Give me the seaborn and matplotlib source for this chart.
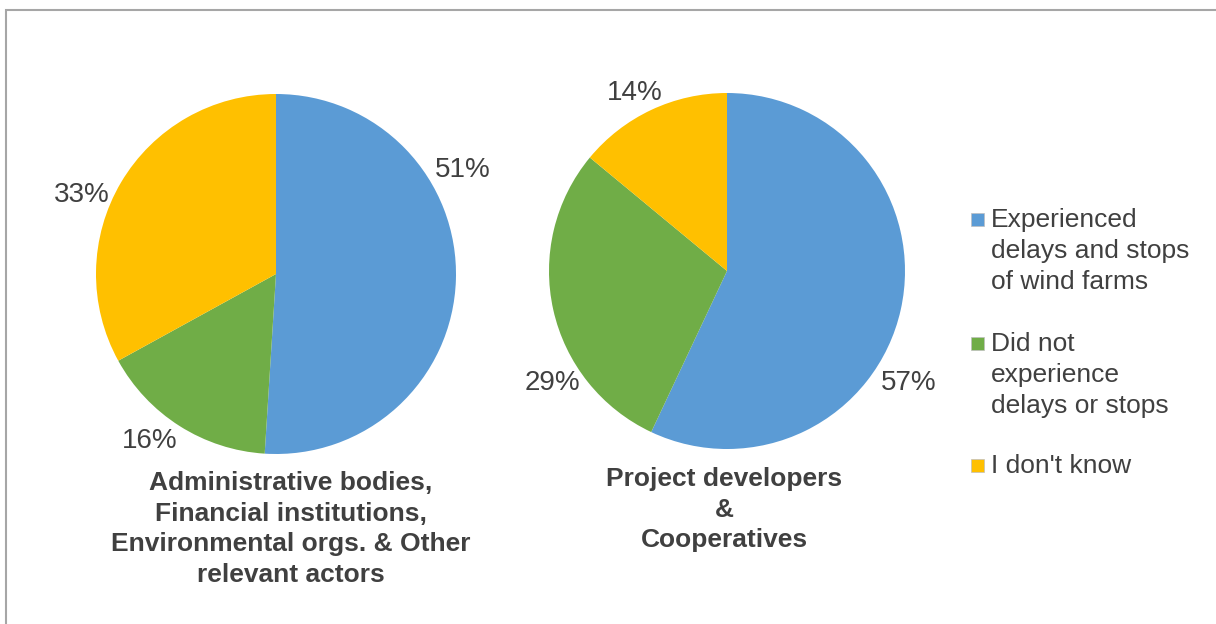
import matplotlib
matplotlib.use("Agg")
import matplotlib.pyplot as plt
from matplotlib.patches import Rectangle
import seaborn as sns

# データ
categories = ["Experienced\ndelays and stops\nof wind farms",
              "Did not\nexperience\ndelays or stops",
              "I don't know"]
admin_values = [51, 16, 33]
developer_values = [57, 29, 14]
group_titles = ["Administrative bodies,\nFinancial institutions,\nEnvironmental orgs. & Other\nrelevant actors",
                "Project developers\n&\nCooperatives"]

sns.set_theme(style="white")
plt.rcParams["font.family"] = ["Liberation Sans", "DejaVu Sans"]

colors = ["#5B9BD5", "#70AD47", "#FFC000"]
text_color = "#404040"

W, H = 1216, 624
fig = plt.figure(figsize=(W / 100, H / 100), dpi=100)


def px_axes(cx, cy, r):
    # ピクセル中心・半径から軸を作成
    return fig.add_axes([(cx - r) / W, (H - cy - r) / H, 2 * r / W, 2 * r / H])


# ラベル位置（半径単位）
admin_label_pos = [(1.04, 0.58), (-0.70, -0.93), (-1.08, 0.44)]
dev_label_pos = [(1.02, -0.63), (-0.98, -0.63), (-0.52, 1.00)]

pies = [
    (px_axes(276, 274, 180), admin_values, admin_label_pos),
    (px_axes(727, 271, 178), developer_values, dev_label_pos),
]

for ax, vals, lpos in pies:
    ax.pie(vals, colors=colors, startangle=90, counterclock=False,
           wedgeprops=dict(linewidth=0))
    for v, (lx, ly) in zip(vals, lpos):
        ax.text(lx, ly, f"{v}%", ha="center", va="center",
                fontsize=20, color=text_color, clip_on=False)
    ax.set_xlim(-1, 1)
    ax.set_ylim(-1, 1)
    ax.set_aspect("equal")
    ax.axis("off")

# タイトル
fig.text(291 / W, 1 - 471 / H, group_titles[0], ha="center", va="top",
         fontsize=19, fontweight="bold", color=text_color, linespacing=1.35,
         multialignment="center")
fig.text(724 / W, 1 - 467 / H, group_titles[1], ha="center", va="top",
         fontsize=19, fontweight="bold", color=text_color, linespacing=1.35,
         multialignment="center")

# 凡例（手動）
legend_top = [208, 332, 454]
for cat, col, y in zip(categories, colors, legend_top):
    fig.patches.append(Rectangle((971 / W, 1 - (y + 18) / H), 13 / W, 13 / H,
                                 transform=fig.transFigure, facecolor=col,
                                 edgecolor="#bfbfbf", linewidth=0.5))
    fig.text(991 / W, 1 - y / H, cat, ha="left", va="top",
             fontsize=19, color=text_color, linespacing=1.37)

# 枠線
fig.patches.append(Rectangle((6 / W, -0.1), 1.2, 1 - 10 / H + 0.1,
                             transform=fig.transFigure, fill=False,
                             edgecolor="#a6a6a6", linewidth=1.5))

fig.savefig("out.png", dpi=100)
